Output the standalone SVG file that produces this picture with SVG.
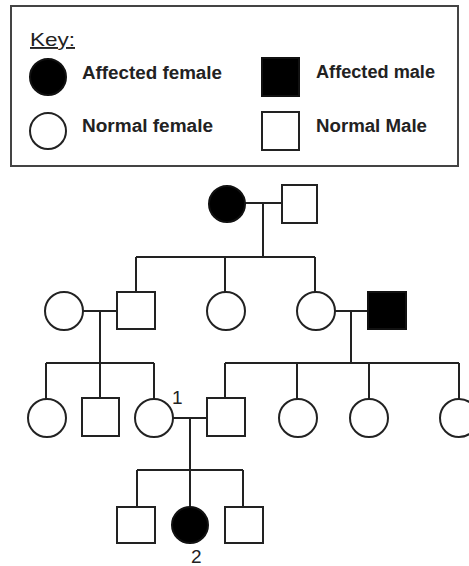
<svg xmlns="http://www.w3.org/2000/svg" width="469" height="566" viewBox="0 0 469 566">
<style>
.ln{stroke:#222;stroke-width:2;fill:none}
.of{fill:#fff;stroke:#222;stroke-width:2}
.ff{fill:#000;stroke:#111;stroke-width:2}
.t{font-family:"Liberation Sans",Arial,sans-serif;font-size:18px;font-weight:bold;fill:#222}
.n{font-family:"Liberation Sans",Arial,sans-serif;font-size:19px;fill:#222}
</style>
<rect width="469" height="566" fill="#fff"/>
<g id="key">
<rect x="11" y="6" width="447" height="160" fill="#fff" stroke="#444" stroke-width="2"/>
<text class="n" x="30" y="46" font-size="20" textLength="45" lengthAdjust="spacingAndGlyphs" text-decoration="underline">Key:</text>
<circle class="ff" cx="48" cy="77" r="18"/>
<text class="t" x="82" y="79" textLength="140" lengthAdjust="spacingAndGlyphs">Affected female</text>
<circle class="of" cx="48" cy="131" r="18"/>
<text class="t" x="82" y="132" textLength="131" lengthAdjust="spacingAndGlyphs">Normal female</text>
<rect class="ff" x="262" y="58" width="37" height="38"/>
<text class="t" x="316" y="78" textLength="119" lengthAdjust="spacingAndGlyphs">Affected male</text>
<rect class="of" x="262" y="112" width="37" height="38"/>
<text class="t" x="316" y="132" textLength="111" lengthAdjust="spacingAndGlyphs">Normal Male</text>
</g>
<g id="connectors">
<path class="ln" d="M245 203H282M263 203V257M136 257H315M136 257V292M225 257V293M315 257V293"/>
<path class="ln" d="M83 311H117M100 311V363M46 363H154M46 363V400M100 363V398M154 363V400"/>
<path class="ln" d="M335 311H368M351 311V363M225 363H459M225 363V398M297 363V400M369 363V400M459 363V400"/>
<path class="ln" d="M173 418H207M190 418V470M137 470H243M137 470V507M190 470V507M243 470V507"/>
</g>
<g id="I1"><circle class="ff" cx="227" cy="204" r="18"/></g>
<g id="I2"><rect class="of" x="282" y="185" width="35" height="38"/></g>
<g id="II1"><circle class="of" cx="64" cy="311" r="19"/></g>
<g id="II2"><rect class="of" x="117" y="292" width="38" height="37"/></g>
<g id="II3"><circle class="of" cx="226" cy="311" r="19"/></g>
<g id="II4"><circle class="of" cx="316" cy="311" r="19"/></g>
<g id="II5"><rect class="ff" x="368" y="292" width="38" height="37"/></g>
<g id="III1"><circle class="of" cx="47" cy="418" r="19"/></g>
<g id="III2"><rect class="of" x="82" y="398" width="37" height="38"/></g>
<g id="III3"><circle class="of" cx="154" cy="418" r="19"/><text class="n" x="172" y="404" font-size="18">1</text></g>
<g id="III4"><rect class="of" x="207" y="398" width="38" height="38"/></g>
<g id="III5"><circle class="of" cx="298" cy="418" r="19"/></g>
<g id="III6"><circle class="of" cx="369" cy="418" r="19"/></g>
<g id="III7"><circle class="of" cx="459" cy="418" r="19"/></g>
<g id="IV1"><rect class="of" x="117" y="507" width="38" height="36"/></g>
<g id="IV2"><circle class="ff" cx="190" cy="525" r="18"/><text class="n" x="191" y="563" font-size="20">2</text></g>
<g id="IV3"><rect class="of" x="225" y="507" width="38" height="36"/></g>
</svg>
